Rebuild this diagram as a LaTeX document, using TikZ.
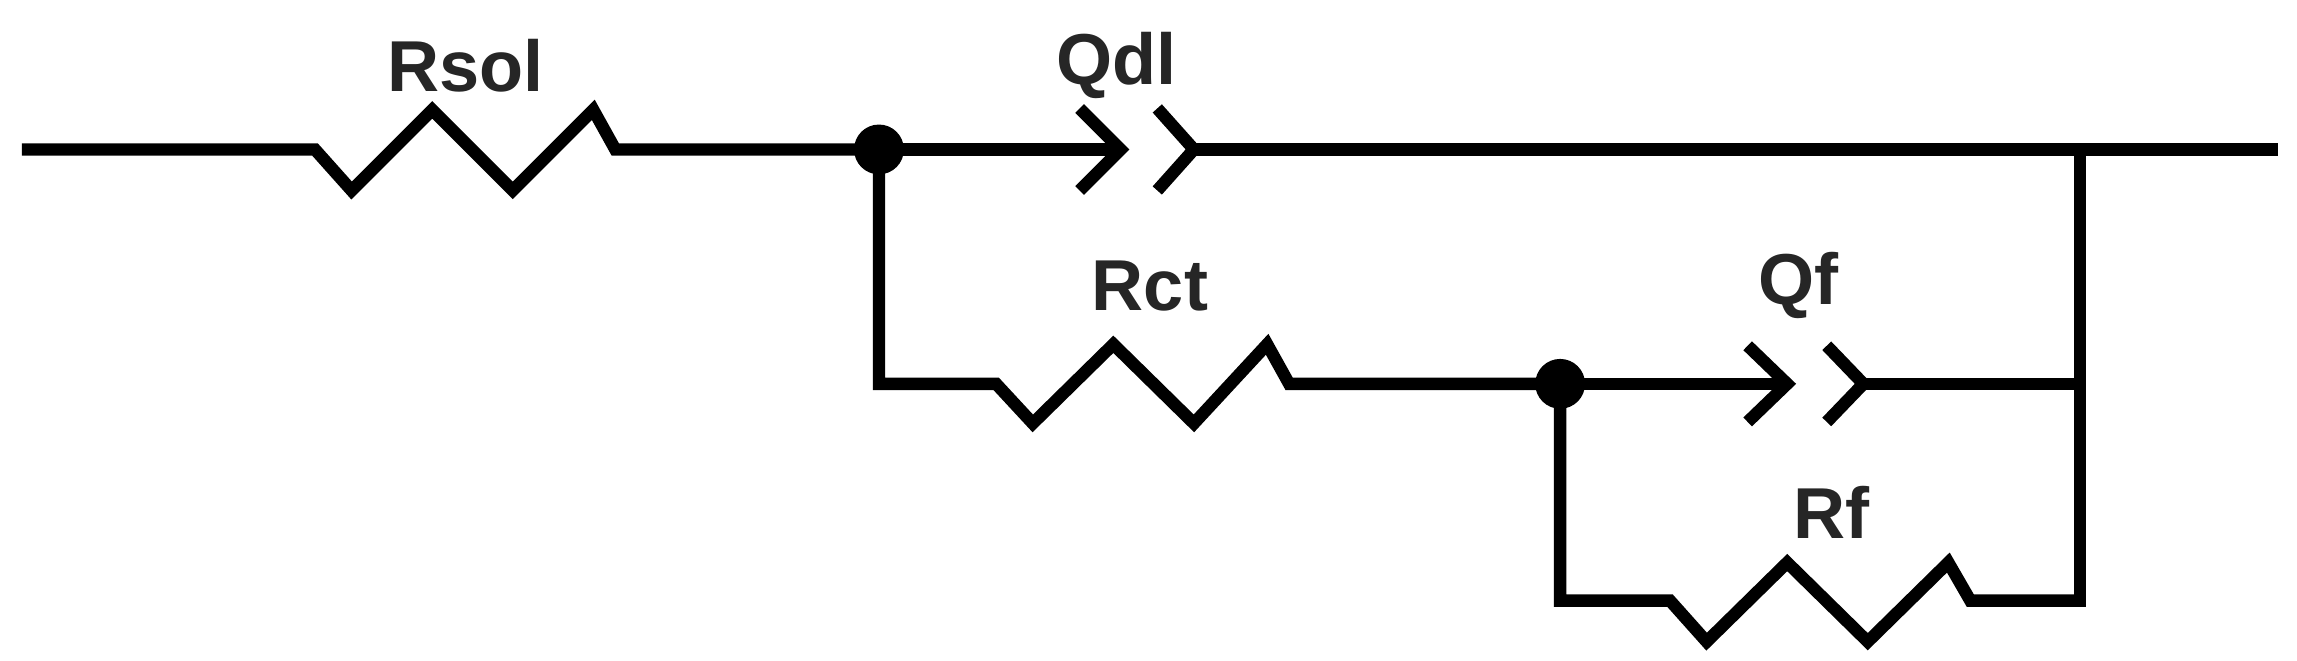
\documentclass[tikz,border=0pt]{standalone}
\usepackage{fontspec}
\setmainfont{Liberation Sans}
\begin{document}
\begin{tikzpicture}[x=0.01cm,y=-0.01cm,
  wire/.style={line width=2.4pt,line join=miter},
  lbl/.style={font=\bfseries\fontsize{14}{17}\selectfont,text=black!85},
  dot/.style={circle,fill=black,minimum size=0.34cm,inner sep=0pt}]
\useasboundingbox (0,0) rectangle (1568,450.6);
\coordinate (in) at (15,102);
\coordinate (out) at (1555,102);
\node[dot] (n1) at (600,102) {};
\node[dot] (n2) at (1065,262) {};
\coordinate (rsA) at (215,102); \coordinate (rsB) at (420,102);
\coordinate (qdlA) at (765,102); \coordinate (qdlB) at (815,102);
\coordinate (c1) at (600,262); \coordinate (rcA) at (680,262); \coordinate (rcB) at (880,262);
\coordinate (qfA) at (1220,262); \coordinate (qfB) at (1272,262);
\coordinate (c2) at (1065,410); \coordinate (rfA) at (1140,410); \coordinate (rfB) at (1345,410);
\coordinate (rt) at (1420,102); \coordinate (rm) at (1420,262); \coordinate (rb) at (1420,410);
% Rsol
\draw[wire] (in) -- (rsA) -- (240,130) -- (295,75) -- (350,130) -- (405,75) -- (rsB) -- (n1.center);
% Qdl
\draw[wire] (n1.center) -- (qdlA);
\draw[wire] (737,74) -- (qdlA) -- (737,130);
\draw[wire] (790,74) -- (qdlB) -- (790,130);
\draw[wire] (qdlB) -- (out);
% Rct
\draw[wire] (n1.center) -- (c1) -- (rcA) -- (705,289) -- (760,235) -- (815,289) -- (865,235) -- (rcB) -- (n2.center);
% Qf
\draw[wire] (n2.center) -- (qfA);
\draw[wire] (1193,236) -- (qfA) -- (1193,288);
\draw[wire] (1247,236) -- (qfB) -- (1247,288);
\draw[wire] (qfB) -- (rm);
% Rf
\draw[wire] (n2.center) -- (c2) -- (rfA) -- (1165,438) -- (1220,384) -- (1275,438) -- (1330,384) -- (rfB) -- (rb);
\draw[wire,line cap=rect] (rt) -- (rb);
% labels
\node[lbl] (lRsol) at (318,45) {Rsol};
\node[lbl] (lQdl) at (762,45) {Qdl};
\node[lbl] (lRct) at (785,195) {Rct};
\node[lbl] (lQf) at (1228,195) {Qf};
\node[lbl] (lRf) at (1250,350) {Rf};
\end{tikzpicture}
\end{document}
